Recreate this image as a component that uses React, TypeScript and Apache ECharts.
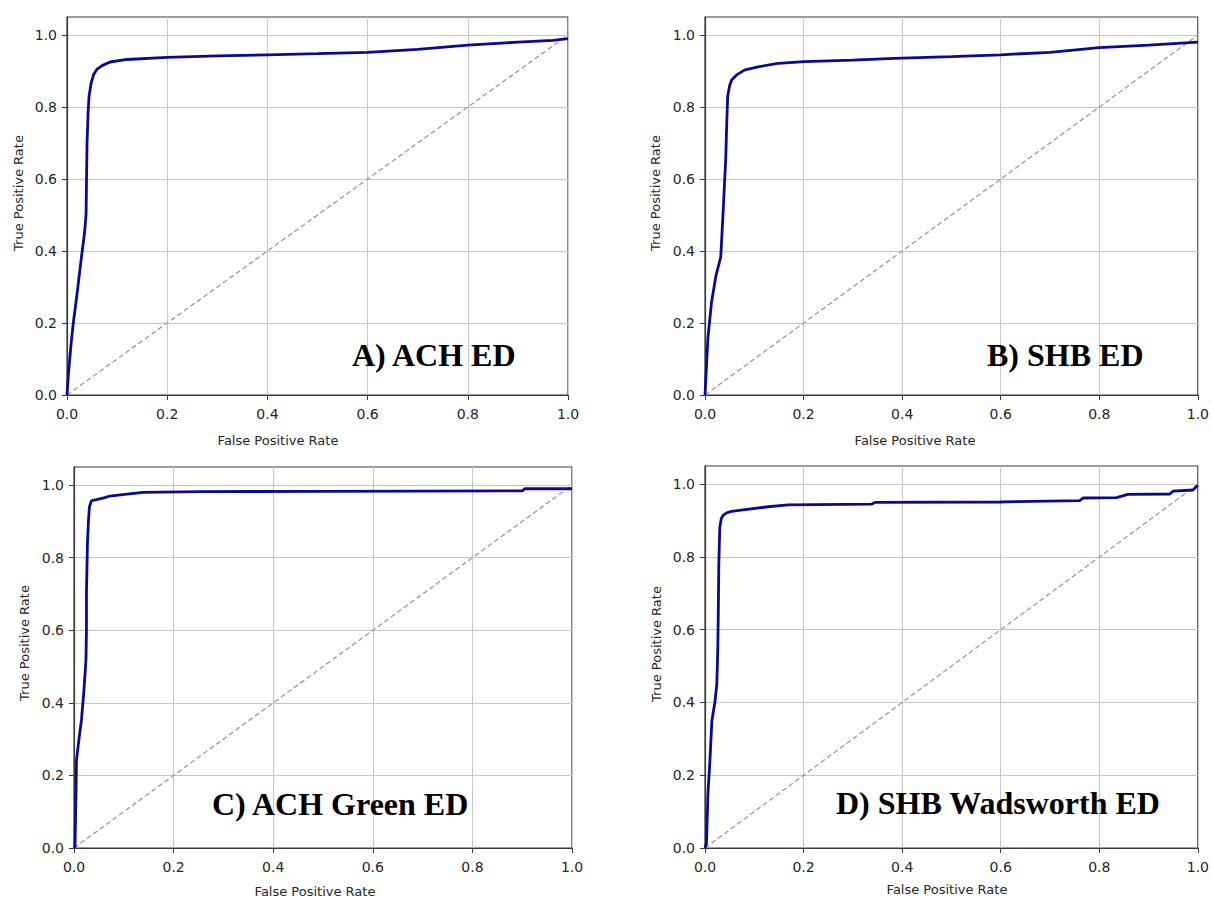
import React, { useEffect, useRef } from "react";
import * as echarts from "echarts";

// ROC curve points [FPR, TPR]
const rocA: [number, number][] = [
  [0, 0], [0.003, 0.06], [0.008, 0.14], [0.0126, 0.2], [0.02, 0.28], [0.029, 0.385], [0.035, 0.45],
  [0.038, 0.5], [0.039, 0.6], [0.04, 0.7], [0.042, 0.78], [0.044, 0.83], [0.048, 0.865], [0.053, 0.89],
  [0.06, 0.905], [0.07, 0.915], [0.086, 0.925], [0.12, 0.932], [0.2, 0.938], [0.3, 0.942], [0.4, 0.945],
  [0.5, 0.948], [0.6, 0.952], [0.7, 0.96], [0.8, 0.972], [0.9, 0.98], [0.97, 0.985], [1.0, 0.99],
];
const rocB: [number, number][] = [
  [0, 0], [0.003, 0.08], [0.006, 0.16], [0.0135, 0.26], [0.022, 0.33], [0.032, 0.384], [0.037, 0.514],
  [0.04, 0.6], [0.042, 0.653], [0.044, 0.75], [0.046, 0.829], [0.05, 0.86], [0.054, 0.875], [0.065, 0.89],
  [0.081, 0.903], [0.11, 0.912], [0.148, 0.921], [0.202, 0.926], [0.3, 0.93], [0.384, 0.935], [0.5, 0.94],
  [0.6, 0.945], [0.7, 0.952], [0.8, 0.965], [0.9, 0.972], [1.0, 0.98],
];
const rocC: [number, number][] = [
  [0, 0], [0.002, 0.004], [0.004, 0.15], [0.005, 0.242], [0.01, 0.3], [0.015, 0.353], [0.02, 0.435],
  [0.024, 0.518], [0.025, 0.6], [0.025, 0.702], [0.027, 0.84], [0.029, 0.9], [0.031, 0.94], [0.035, 0.957],
  [0.045, 0.96], [0.06, 0.965], [0.072, 0.97], [0.106, 0.975], [0.139, 0.98], [0.253, 0.982], [0.5, 0.983],
  [0.9, 0.984], [0.905, 0.99], [1.0, 0.99],
];
const rocD: [number, number][] = [
  [0, 0], [0.003, 0.013], [0.006, 0.15], [0.01, 0.24], [0.014, 0.35], [0.02, 0.4], [0.024, 0.45],
  [0.026, 0.55], [0.027, 0.65], [0.028, 0.78], [0.03, 0.88], [0.033, 0.905], [0.037, 0.915], [0.045, 0.922],
  [0.054, 0.925], [0.081, 0.93], [0.128, 0.938], [0.169, 0.943], [0.338, 0.945], [0.345, 0.95], [0.598, 0.951],
  [0.76, 0.955], [0.767, 0.962], [0.835, 0.963], [0.858, 0.972], [0.943, 0.973], [0.95, 0.981], [0.99, 0.984],
  [1.0, 0.997],
];
const chance: [number, number][] = [[0, 0], [1, 1]];

const panelTitles = ["A) ACH ED", "B) SHB ED", "C) ACH Green ED", "D) SHB Wadsworth ED"];
const yTicks = [0, 0.2, 0.4, 0.6, 0.8, 1.0];
const xLabel = "False Positive Rate";
const yLabel = "True Positive Rate";

const curves = [rocA, rocB, rocC, rocD];

// layout (pixel positions of plot areas)
const grids = [
  { left: 67, top: 17, width: 501, height: 378 },
  { left: 705, top: 17, width: 495, height: 378 },
  { left: 74, top: 467, width: 498, height: 381 },
  { left: 705, top: 466, width: 493, height: 382 },
];
const titlePos = [
  [352, 355],
  [987, 355],
  [212, 804],
  [836, 803],
];
const xNamePos = [
  [278, 440],
  [915, 440],
  [315, 891],
  [947, 889],
];
const yNamePos = [
  [18, 193],
  [655, 193],
  [24, 643],
  [656, 644],
];

const FONT = "DejaVu Sans";
const TEXT = "#262626";

export default function App() {
  const ref = useRef<HTMLDivElement>(null);
  useEffect(() => {
    if (!ref.current) return;
    const chart = echarts.init(ref.current, null, { renderer: "svg" });
    const fmt = (v: number) => v.toFixed(1);
    const option: any = {
      animation: false,
      backgroundColor: "#ffffff",
      grid: grids.map((g) => ({
        ...g,
        show: true,
        borderColor: "#3a3a3a",
        borderWidth: 1.2,
        backgroundColor: "transparent",
      })),
      xAxis: grids.map((_, i) => ({
        type: "value",
        gridIndex: i,
        min: 0,
        max: 1,
        interval: 0.2,
        axisLine: { show: true, lineStyle: { color: "#3a3a3a", width: 1.2 } },
        axisTick: { show: true, length: 5, lineStyle: { color: "#3a3a3a" } },
        axisLabel: { margin: 12, fontFamily: FONT, fontSize: 14, color: TEXT, formatter: fmt },
        splitLine: { show: true, lineStyle: { color: "#c6c6c6", width: 1 } },
      })),
      yAxis: grids.map((_, i) => ({
        type: "value",
        gridIndex: i,
        min: 0,
        max: 1.05,
        interval: 0.2,
        axisLine: { show: true, lineStyle: { color: "#3a3a3a", width: 1.2 } },
        axisTick: { show: true, length: 5, customValues: yTicks, lineStyle: { color: "#3a3a3a" } },
        axisLabel: {
          margin: 10,
          fontFamily: FONT,
          fontSize: 14,
          color: TEXT,
          customValues: yTicks,
          formatter: fmt,
        },
        splitLine: { show: true, lineStyle: { color: "#c6c6c6", width: 1 } },
      })),
      series: curves.flatMap((c, i) => [
        {
          type: "line",
          xAxisIndex: i,
          yAxisIndex: i,
          data: chance,
          showSymbol: false,
          silent: true,
          lineStyle: { color: "#9a9a9a", width: 1.3, type: [5, 3] },
        },
        {
          type: "line",
          xAxisIndex: i,
          yAxisIndex: i,
          data: c,
          showSymbol: false,
          smooth: false,
          lineStyle: { color: "#0a0a90", width: 2.8 },
        },
      ]),
      graphic: [
        ...panelTitles.map((t, i) => ({
          type: "text",
          x: titlePos[i][0],
          y: titlePos[i][1],
          z: 100,
          style: {
            text: t,
            fontFamily: "Liberation Serif",
            fontWeight: "bold",
            fontSize: 32,
            fill: "#000",
            align: "left",
            verticalAlign: "middle",
          },
        })),
        ...xNamePos.map((p) => ({
          type: "text",
          x: p[0],
          y: p[1],
          style: {
            text: xLabel,
            fontFamily: FONT,
            fontSize: 13,
            fill: TEXT,
            align: "center",
            verticalAlign: "middle",
          },
        })),
        ...yNamePos.map((p) => ({
          type: "text",
          x: p[0],
          y: p[1],
          rotation: Math.PI / 2,
          style: {
            text: yLabel,
            fontFamily: FONT,
            fontSize: 13,
            fill: TEXT,
            align: "center",
            verticalAlign: "middle",
          },
        })),
      ],
    };
    chart.setOption(option);
    return () => chart.dispose();
  }, []);
  return (
    <div
      ref={ref}
      style={{ position: "absolute", left: 0, top: 0, width: 1212, height: 903 }}
    />
  );
}
